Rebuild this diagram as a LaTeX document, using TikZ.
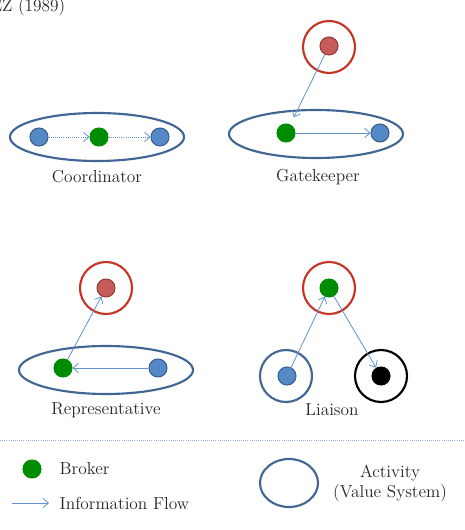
\documentclass[tikz,border=0pt]{standalone}
\usepackage{xcolor}
\usepackage{tikz}
\usetikzlibrary{arrows.meta,shapes.geometric}
\definecolor{actblue}{RGB}{66,102,148}
\definecolor{dotblue}{RGB}{84,136,198}
\definecolor{dotblueline}{RGB}{58,95,142}
\definecolor{brokergreen}{RGB}{0,140,0}
\definecolor{ringred}{RGB}{198,52,38}
\definecolor{dotred}{RGB}{198,92,88}
\definecolor{dotredline}{RGB}{150,60,58}
\definecolor{flowblue}{RGB}{96,146,204}
\definecolor{rulerblue}{RGB}{150,175,210}
\tikzset{
  roledot/.style={
    circle,
    inner sep=0pt,
    minimum size=13.5pt,
    line width=0.8pt
  },
  contactdot/.style={roledot, fill=dotblue, draw=dotblueline},
  brokerdot/.style={roledot, fill=brokergreen, draw=brokergreen},
  outsidedot/.style={roledot, fill=dotred, draw=dotredline},
  otherdot/.style={roledot, fill=black, draw=black},
  activity/.style={
    ellipse,
    draw=actblue,
    line width=1.6pt,
    minimum width=130.5pt,
    minimum height=36pt
  },
  valuering/.style={
    circle,
    line width=1.6pt,
    minimum size=39pt
  },
  infoflow/.style={
    -{Straight Barb[length=4pt,width=7pt]},
    draw=flowblue,
    line width=0.6pt
  },
  rolename/.style={
    font=\fontsize{13}{15}\selectfont,
    text=black!85
  }
}

\begin{document}
\begin{tikzpicture}[x=0.75pt,y=-0.75pt]
\useasboundingbox (0,0) rectangle (464,530);
\node[rolename, anchor=base east] (source) at (70,12) {EZ (1989)};

% coordinator
\node[activity] (coordact) at (97,137) {};
\node[contactdot] (coordin) at (39,137) {};
\node[brokerdot] (coordbroker) at (99,137) {};
\node[contactdot] (coordout) at (160,137) {};
\node[rolename] (coordname) at (97,177) {Coordinator};
\draw[infoflow, densely dotted] (coordin) -- (coordbroker);
\draw[infoflow, densely dotted] (coordbroker) -- (coordout);

% gatekeeper
\node[valuering, draw=ringred] (gatering) at (329,47) {};
\node[outsidedot] (gateout) at (329,46) {};
\node[activity] (gateact) at (316,134) {};
\node[brokerdot] (gatebroker) at (286,133) {};
\node[contactdot] (gatein) at (380,133) {};
\node[rolename] (gatename) at (318,177) {Gatekeeper};
\draw[infoflow, shorten >=6pt] (gateout) -- (gatebroker);
\draw[infoflow] (gatebroker) -- (gatein);

% representative
\node[valuering, draw=ringred] (repring) at (106,288) {};
\node[outsidedot] (repout) at (106,288) {};
\node[activity] (repact) at (106,370) {};
\node[brokerdot] (repbroker) at (63,368) {};
\node[contactdot] (repin) at (158,368) {};
\node[rolename] (repname) at (106,410) {Representative};
\draw[infoflow] (repin) -- (repbroker);
\draw[infoflow] (repbroker) -- (repout);

% liaison
\node[valuering, draw=ringred] (liaring) at (329,288) {};
\node[brokerdot] (liabroker) at (329,288) {};
\node[valuering, draw=actblue] (liabluering) at (286,376) {};
\node[contactdot] (liain) at (287,376) {};
\node[valuering, draw=black] (liablackring) at (381,376) {};
\node[otherdot] (liaout) at (381,376) {};
\node[rolename] (lianame) at (332,410) {Liaison};
\draw[infoflow] (liain.center) -- (liabroker);
\draw[infoflow] (liabroker) -- (liaout);

% legend
\coordinate (ruleleft) at (0,440);
\coordinate (ruleright) at (464,440);
\draw[rulerblue, densely dotted, line width=0.6pt] (ruleleft) -- (ruleright);
\node[brokerdot] (keybroker) at (32,469) {};
\node[rolename, anchor=west] (keybrokername) at (55,469) {Broker};
\coordinate (keyflowstart) at (12,503);
\coordinate (keyflowend) at (49,503);
\draw[infoflow] (keyflowstart) -- (keyflowend);
\node[rolename, anchor=west] (keyflowname) at (55,503) {Information Flow};
\node[ellipse, draw=actblue, line width=1.6pt, minimum width=43.5pt, minimum height=36pt] (keyact) at (289,483) {};
\node[rolename, align=center] (keyactname) at (390,483) {Activity\\(Value System)};
\end{tikzpicture}
\end{document}
